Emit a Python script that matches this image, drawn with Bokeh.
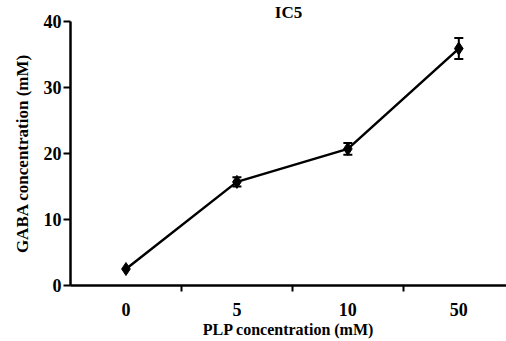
from bokeh.plotting import figure
from bokeh.models import Range1d, FixedTicker, ColumnDataSource, Whisker, TeeHead
from bokeh.embed import file_html
from bokeh.resources import INLINE

categories = ["0", "5", "10", "50"]
gaba = [2.5, 15.7, 20.7, 35.9]
err = [0.0, 0.7, 0.9, 1.6]
y_ticks = [0, 10, 20, 30, 40]
title_text = "IC5"

xs = list(range(len(categories)))
src = ColumnDataSource(dict(
    x=xs, y=gaba,
    lo=[g - e for g, e in zip(gaba, err)],
    hi=[g + e for g, e in zip(gaba, err)],
))
esrc = ColumnDataSource(dict(
    x=[x for x, e in zip(xs, err) if e > 0],
    lo=[g - e for g, e in zip(gaba, err) if e > 0],
    hi=[g + e for g, e in zip(gaba, err) if e > 0],
))

FONT = "Liberation Serif"

p = figure(width=506, height=341, output_backend="svg", toolbar_location=None,
           x_range=Range1d(-0.5, 3.43), y_range=Range1d(0, 40),
           min_border_left=70, min_border_right=0, min_border_top=19, min_border_bottom=56)
p.outline_line_color = None
p.xgrid.grid_line_color = None
p.ygrid.grid_line_color = None

p.title.text = title_text
p.title.align = "center"
p.title.text_font = FONT
p.title.text_font_style = "bold"
p.title.text_font_size = "17px"
p.title.text_color = "black"
p.title.standoff = 0
p.title.offset = -2

p.line("x", "y", source=src, line_color="black", line_width=2.5)
p.add_layout(Whisker(source=esrc, base="x", upper="hi", lower="lo", dimension="height",
                     line_color="black", line_width=2,
                     upper_head=TeeHead(size=9, line_width=2, line_color="black"),
                     lower_head=TeeHead(size=9, line_width=2, line_color="black")))
p.scatter("x", "y", source=src, marker="diamond", size=13, fill_color="black", line_color="black")

# x axis
xa = p.xaxis[0]
xa.ticker = FixedTicker(ticks=xs, minor_ticks=[i + 0.5 for i in xs[:-1]])
xa.major_label_overrides = {i: c for i, c in zip(xs, categories)}
xa.major_tick_line_color = None
xa.major_tick_out = 0
xa.major_tick_in = 0
xa.minor_tick_out = 6
xa.minor_tick_in = 0
xa.minor_tick_line_width = 2
xa.minor_tick_line_color = "black"
xa.axis_line_width = 2.5
xa.axis_line_color = "black"
xa.major_label_standoff = 11
xa.major_label_text_font = FONT
xa.major_label_text_font_style = "bold"
xa.major_label_text_font_size = "18px"
xa.major_label_text_color = "black"
xa.axis_label = "PLP concentration (mM)"
xa.axis_label_text_font = FONT
xa.axis_label_text_font_style = "bold"
xa.axis_label_text_font_size = "16px"
xa.axis_label_text_color = "black"
xa.axis_label_standoff = 2

# y axis
ya = p.yaxis[0]
ya.ticker = FixedTicker(ticks=y_ticks, minor_ticks=[])
ya.major_tick_out = 7
ya.major_tick_in = 0
ya.major_tick_line_width = 2
ya.major_tick_line_color = "black"
ya.axis_line_width = 2.5
ya.axis_line_color = "black"
ya.major_label_standoff = 2
ya.major_label_text_font = FONT
ya.major_label_text_font_style = "bold"
ya.major_label_text_font_size = "18px"
ya.major_label_text_color = "black"
ya.axis_label = "GABA concentration (mM)"
ya.axis_label_text_font = FONT
ya.axis_label_text_font_style = "bold"
ya.axis_label_text_font_size = "17px"
ya.axis_label_text_color = "black"
ya.axis_label_standoff = 9

open("out.html", "w").write(file_html(p, INLINE))
